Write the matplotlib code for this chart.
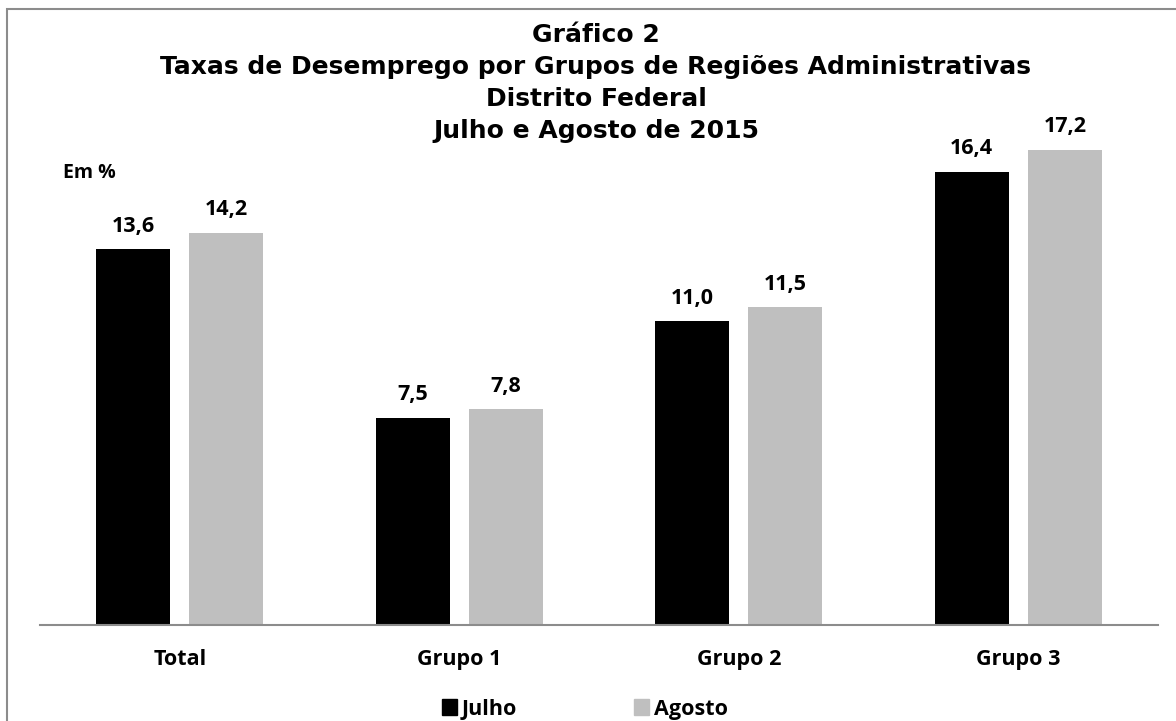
import numpy as np
from matplotlib import pyplot as plt
from matplotlib.patches import Rectangle, Patch

categorias = ["Total", "Grupo 1", "Grupo 2", "Grupo 3"]
julho = [13.6, 7.5, 11.0, 16.4]
agosto = [14.2, 7.8, 11.5, 17.2]
series = ["Julho", "Agosto"]
titulo = ["Gráfico 2",
          "Taxas de Desemprego por Grupos de Regiões Administrativas",
          "Distrito Federal",
          "Julho e Agosto de 2015"]

W, H = 1176, 721
FONTE = "Open Sans"


def fmt(v):
    return "{:.1f}".format(v).replace(".", ",")


def main():
    fig = plt.figure(figsize=(W / 100, H / 100), dpi=100)
    # moldura cinza do gráfico
    fig.patches.append(Rectangle((7 / W, -0.1), 1.2, 1 - 9 / H + 0.1,
                                 transform=fig.transFigure, fill=False,
                                 edgecolor="#8c8c8c", linewidth=1.5))
    ax = fig.add_axes([40 / W, 96 / H, 1118 / W, 525 / H])
    x = np.arange(len(categorias))
    w = 0.265
    b1 = ax.bar(x - 0.167, julho, w, color="black")
    b2 = ax.bar(x + 0.167, agosto, w, color="#bfbfbf")
    for bars, vals in ((b1, julho), (b2, agosto)):
        for b, v in zip(bars, vals):
            ax.annotate(fmt(v), (b.get_x() + b.get_width() / 2, v),
                        xytext=(0, 12.5), textcoords="offset points",
                        ha="center", va="baseline", fontsize=15.5,
                        fontweight="bold", family=FONTE)
    ax.set_xlim(-0.5, 3.5)
    ax.set_ylim(0, 19)
    ax.set_xticks(x)
    ax.set_xticklabels(categorias, fontsize=15.5, fontweight="bold", family=FONTE)
    ax.tick_params(axis="x", length=0, pad=17)
    ax.set_yticks([])
    for s in ("top", "left", "right"):
        ax.spines[s].set_visible(False)
    ax.spines["bottom"].set_color("#8c8c8c")
    ax.spines["bottom"].set_linewidth(1.5)
    ax.spines["bottom"].set_bounds(-0.5, 3.5)

    baselines = [42, 74, 106, 138]
    for linha, yb in zip(titulo, baselines):
        fig.text(596 / W, 1 - yb / H, linha, ha="center", va="baseline",
                 fontsize=18, fontweight="bold", family="DejaVu Sans")
    fig.text(63 / W, 1 - 178 / H, "Em %", ha="left", va="baseline",
             fontsize=14, fontweight="bold", family=FONTE)

    handles = [Patch(color="black"), Patch(color="#bfbfbf")]
    fig.legend(handles, series, loc="center", ncol=2,
               bbox_to_anchor=(585 / W, 1 - 709 / H),
               frameon=False, handlelength=0.7, handleheight=0.7,
               handletextpad=0.23, columnspacing=5.45, borderpad=0.2,
               prop={"family": FONTE, "weight": "bold", "size": 15.5})
    fig.savefig("out.png", dpi=100)


if __name__ == "__main__":
    main()
